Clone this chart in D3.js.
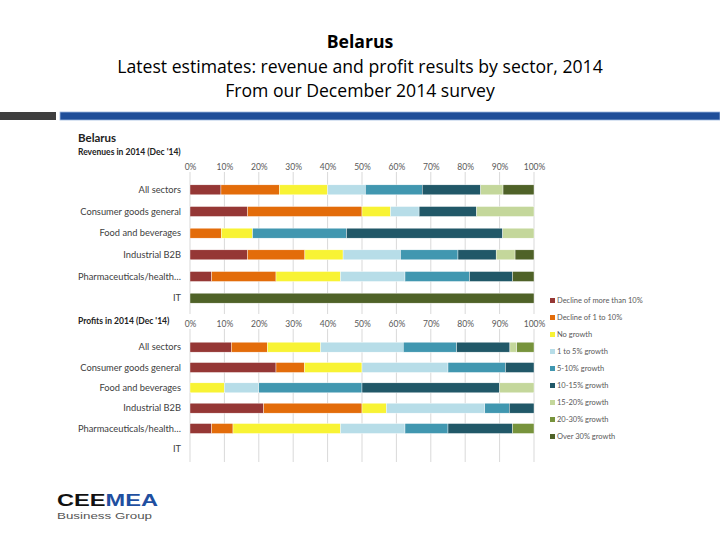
<!DOCTYPE html>
<html><head><meta charset="utf-8">
<script src="https://cdn.jsdelivr.net/npm/d3@7"></script>
<style>body{margin:0;background:#fff}svg{display:block}</style>
</head><body>
<svg id="c" width="720" height="540"></svg>
<script>
const categories = ["All sectors","Consumer goods general","Food and beverages","Industrial B2B","Pharmaceuticals/health…","IT"];
const seriesNames = ["Decline of more than 10%","Decline of 1 to 10%","No growth","1 to 5% growth","5-10% growth","10-15% growth","15-20% growth","20-30% growth","Over 30% growth"];
const seriesColors = ["#953735","#e36c0a","#f8f334","#b7dde8","#4197b0","#215868","#c4d79b","#77933c","#4f6228"];
const tickValues = [0,10,20,30,40,50,60,70,80,90,100];
// revenue shares (%) per series, in category order
const revDecline10 = [9, 16.7, 0, 16.7, 6.25, 0];
const revDecline1  = [17, 33.3, 9.1, 16.7, 18.75, 0];
const revNoGrowth  = [14, 8.3, 9.1, 11.1, 18.75, 0];
const rev1to5      = [11, 8.3, 0, 16.7, 18.75, 0];
const rev5to10     = [16.5, 0, 27.3, 16.7, 18.75, 0];
const rev10to15    = [17, 16.7, 45.4, 11.1, 12.5, 0];
const rev15to20    = [6.5, 16.7, 9.1, 5.5, 0, 0];
const rev20to30    = [0, 0, 0, 0, 0, 0];
const revOver30    = [9, 0, 0, 5.5, 6.25, 100];
// profit shares (%)
const proDecline10 = [12, 25, 0, 21.4, 6.25, 0];
const proDecline1  = [10.5, 8.3, 0, 28.6, 6.25, 0];
const proNoGrowth  = [15.5, 16.7, 10, 7.1, 31.25, 0];
const pro1to5      = [24, 25, 10, 28.6, 18.75, 0];
const pro5to10     = [15.5, 16.7, 30, 7.1, 12.5, 0];
const pro10to15    = [15.5, 8.3, 40, 7.2, 18.75, 0];
const pro15to20    = [2, 0, 10, 0, 0, 0];
const pro20to30    = [5, 0, 0, 0, 6.25, 0];
const proOver30    = [0, 0, 0, 0, 0, 0];

const revSeries = [revDecline10,revDecline1,revNoGrowth,rev1to5,rev5to10,rev10to15,rev15to20,rev20to30,revOver30];
const proSeries = [proDecline10,proDecline1,proNoGrowth,pro1to5,pro5to10,pro10to15,pro15to20,pro20to30,proOver30];

const svg = d3.select("#c");
const F = "Lato, 'Open Sans', sans-serif";

// Title
const title = ["Belarus","Latest estimates: revenue and profit results by sector, 2014","From our December 2014 survey"];
const tt = svg.selectAll("text.t").data(title).enter().append("text")
  .attr("x",360).attr("y",(d,i)=>[48,73,97][i]).attr("text-anchor","middle")
  .attr("font-family","'Open Sans', sans-serif").attr("font-size",16)
  .attr("font-weight",(d,i)=>i===0?"bold":"normal").attr("fill","#000").text(d=>d);
// fit the long subtitle line to the reference width, same size for all lines
const w = tt.nodes()[1].getComputedTextLength();
const fs = 16*486/w;
tt.attr("font-size",fs);

// header bars
svg.append("rect").attr("x",0).attr("y",112).attr("width",56).attr("height",8).attr("fill","#3f3f3f");
svg.append("rect").attr("x",60).attr("y",112).attr("width",660).attr("height",8).attr("fill","#1f4e99").attr("stroke","#9fb8de").attr("stroke-width",0.8);

const x = d3.scaleLinear().domain([0,100]).range([190,534]);

svg.append("text").attr("x",78).attr("y",142).attr("font-family",F).attr("font-size",11.5).attr("font-weight","bold").attr("fill","#222").text("Belarus");
svg.append("text").attr("x",78).attr("y",155).attr("font-family",F).attr("font-size",8.5).attr("font-weight","bold").attr("fill","#222").text("Revenues in 2014 (Dec '14)");
svg.append("text").attr("x",78).attr("y",324).attr("font-family",F).attr("font-size",8.5).attr("font-weight","bold").attr("fill","#222").text("Profits in 2014 (Dec '14)");

function panel(seriesVals, y0, y1, labelY, gridTop, gridBottom, pad){
  const y = d3.scaleBand().domain(categories).range([y0,y1]).paddingInner(pad).paddingOuter(pad/2);
  svg.append("g").selectAll("line").data(tickValues).enter().append("line")
    .attr("x1",d=>x(d)).attr("x2",d=>x(d)).attr("y1",gridTop).attr("y2",gridBottom)
    .attr("stroke","#d9d9d9").attr("stroke-width",1);
  const ax = svg.append("g").attr("transform",`translate(0,${labelY})`)
    .call(d3.axisTop(x).tickValues(tickValues).tickSize(0).tickPadding(0).tickFormat(d=>d+"%"));
  ax.select(".domain").remove();
  ax.selectAll("text").attr("font-family",F).attr("font-size",8.5).attr("fill","#595959");
  svg.append("g").selectAll("text").data(categories).enter().append("text")
    .attr("x",181).attr("y",d=>y(d)+y.bandwidth()/2+3).attr("text-anchor","end")
    .attr("font-family",F).attr("font-size",9.3).attr("fill","#404040").text(d=>d);
  const rows = categories.map((c,i)=>{const o={cat:c}; seriesNames.forEach((s,j)=>o[s]=seriesVals[j][i]); return o;});
  const stack = d3.stack().keys(seriesNames)(rows);
  svg.append("g").selectAll("g").data(stack).enter().append("g")
    .attr("fill",(d,i)=>seriesColors[i])
    .selectAll("rect").data(d=>d.filter(p=>p[1]-p[0]>0)).enter().append("rect")
    .attr("x",p=>x(p[0])).attr("width",p=>x(p[1])-x(p[0]))
    .attr("y",p=>y(p.data.cat)).attr("height",y.bandwidth())
    .attr("stroke","#fff").attr("stroke-width",0.4);
}
panel(revSeries, 179, 309, 170, 172, 314, 0.54);
panel(proSeries, 337, 459, 327, 329, 462, 0.51);

// legend
const lg = svg.append("g").selectAll("g").data(seriesNames).enter().append("g")
  .attr("transform",(d,i)=>`translate(550,${302+i*17})`);
lg.append("rect").attr("x",0).attr("y",-4).attr("width",5).attr("height",5).attr("fill",(d,i)=>seriesColors[i]);
lg.append("text").attr("x",7).attr("y",1).attr("font-family",F).attr("font-size",7.5).attr("fill","#595959").text(d=>d);

// logo
const logo = svg.append("text").attr("x",57).attr("y",506).attr("font-family","'Liberation Sans', Arial, sans-serif").attr("font-size",16.5).attr("font-weight","bold")
  .attr("textLength",101).attr("lengthAdjust","spacingAndGlyphs");
logo.append("tspan").attr("fill","#111").text("CEE");
logo.append("tspan").attr("fill","#1f4fa0").text("MEA");
svg.append("text").attr("x",57).attr("y",519).attr("font-family","'Liberation Sans', Arial, sans-serif").attr("font-size",9).attr("fill","#555")
  .attr("textLength",95).attr("lengthAdjust","spacingAndGlyphs").text("Business Group");
</script>
</body></html>
